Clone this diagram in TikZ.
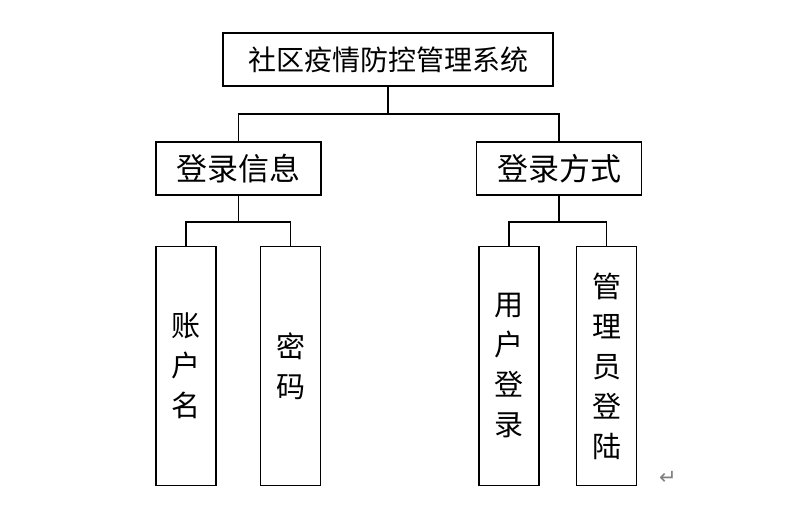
\documentclass[tikz,border=0pt]{standalone}
\usepackage{fontspec}
\newfontfamily\cjk{Noto Sans CJK SC}
\newfontfamily\dejavu{DejaVu Sans}
\begin{document}
\begin{tikzpicture}[x=1pt,y=-1pt,
  box/.style={draw, line width=1.6pt, inner sep=0pt, align=center},
  hbox/.style={box, minimum width=165pt, minimum height=53pt, font=\cjk\fontsize{31}{31}\selectfont},
  vbox/.style={box, minimum width=60pt, minimum height=239pt, font=\cjk\fontsize{29}{40}\selectfont},
  conn/.style={line width=1.6pt}]
\useasboundingbox (0,0) rectangle (786,504);
\node[box, minimum width=330pt, minimum height=53pt, font=\cjk\fontsize{28}{28}\selectfont] (top) at (388,59.5) {社区疫情防控管理系统};
\node[hbox] (lm) at (238.5,168.5) {登录信息};
\node[hbox] (rm) at (559,168.5) {登录方式};
\node[vbox] (b1) at (186,366) {账\\户\\名};
\node[vbox] (b2) at (290.5,366) {密\\码};
\node[vbox] (b3) at (509,366) {用\\户\\登\\录};
\node[vbox] (b4) at (606.5,366) {管\\理\\员\\登\\陆};
\coordinate (j0) at (0,114);
\coordinate (j1) at (0,221.7);
\draw[conn] (top.south) -- (top.south |- j0) -| (lm.north);
\draw[conn] (top.south |- j0) -| (rm.north);
\draw[conn] (lm.south) -- (lm.south |- j1) -| (b1.north);
\draw[conn] (lm.south |- j1) -| (b2.north);
\draw[conn] (rm.south) -- (rm.south |- j1) -| (b3.north);
\draw[conn] (rm.south |- j1) -| (b4.north);
\node[font=\dejavu\fontsize{21}{21}\selectfont, text=gray] (ret) at (668,478) {↵};
\end{tikzpicture}
\end{document}
